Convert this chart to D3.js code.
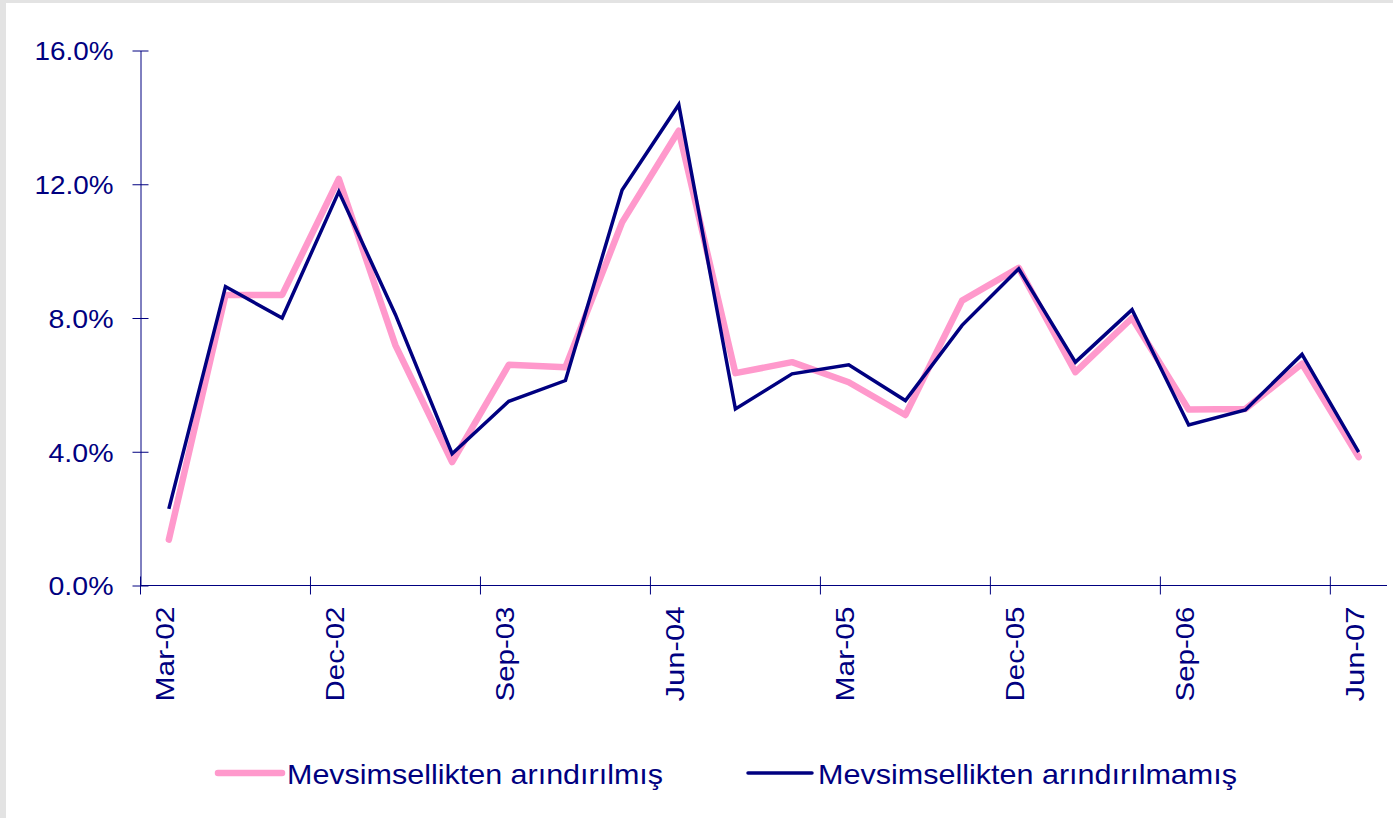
<!DOCTYPE html>
<html>
<head>
<meta charset="utf-8">
<script src="https://cdn.jsdelivr.net/npm/d3@7"></script>
<style>
  html, body { margin: 0; padding: 0; background: #e3e3e3; }
  svg { display: block; }
</style>
</head>
<body>
<script>
// ---- data ----
const categories = ["Mar-02","Jun-02","Sep-02","Dec-02","Mar-03","Jun-03","Sep-03","Dec-03",
  "Mar-04","Jun-04","Sep-04","Dec-04","Mar-05","Jun-05","Sep-05","Dec-05",
  "Mar-06","Jun-06","Sep-06","Dec-06","Mar-07","Jun-07"];
const seasAdj = [1.37, 8.69, 8.69, 12.16, 7.18, 3.69, 6.60, 6.53, 10.86, 13.60, 6.35, 6.68,
  6.08, 5.10, 8.52, 9.50, 6.38, 8.00, 5.26, 5.28, 6.63, 3.84];
const notAdj = [2.29, 8.94, 8.00, 11.78, 8.10, 3.94, 5.51, 6.13, 11.83, 14.38, 5.28, 6.33,
  6.60, 5.53, 7.78, 9.47, 6.68, 8.25, 4.80, 5.25, 6.91, 3.99];
const yTicks = [0, 4, 8, 12, 16];
const xLabelCats = ["Mar-02","Dec-02","Sep-03","Jun-04","Mar-05","Dec-05","Sep-06","Jun-07"];
const seriesNames = ["Mevsimsellikten arındırılmış", "Mevsimsellikten arındırılmamış"];

const W = 1393, H = 818;
const navy = "#000080", pink = "#ff99cc";
const mLeft = 140.5, mRight = 1387, mTop = 50.5, mBottom = 585.5;

const svg = d3.select("body").append("svg").attr("width", W).attr("height", H);
svg.append("rect").attr("x", 6).attr("y", 3).attr("width", W - 6).attr("height", H - 3).attr("fill", "#fff");

const x = d3.scaleBand().domain(categories).range([mLeft, mRight]).padding(0);
const y = d3.scaleLinear().domain([0, 16]).range([mBottom, mTop]);
const font = "'Liberation Sans', Arial, sans-serif";

// y axis
const yAxis = d3.axisLeft(y).tickValues(yTicks).tickSize(0).tickFormat(d => d3.format(".1f")(d) + "%");
const gy = svg.append("g").attr("transform", `translate(${mLeft},0)`).call(yAxis);
gy.select(".domain").attr("stroke", navy).attr("stroke-width", 1);
gy.selectAll(".tick text").attr("x", -27).attr("dy", "0.36em")
  .attr("fill", navy).attr("font-family", font).attr("font-size", 26)
  .attr("textLength", d => d >= 10 ? 79 : 65).attr("lengthAdjust", "spacingAndGlyphs");
gy.selectAll(".tick").append("line").attr("x1", -8).attr("x2", 8).attr("stroke", navy).attr("stroke-width", 1);

// x axis
const gx = svg.append("g").attr("transform", `translate(0,${mBottom})`);
gx.append("line").attr("x1", mLeft).attr("x2", mRight).attr("stroke", navy).attr("stroke-width", 1);
const tickIdx = d3.range(0, categories.length + 1, 3);
gx.selectAll("line.tk").data(tickIdx).join("line").attr("class", "tk")
  .attr("x1", i => i < categories.length ? x(categories[i]) : mRight)
  .attr("x2", i => i < categories.length ? x(categories[i]) : mRight)
  .attr("y1", -9).attr("y2", 9).attr("stroke", navy).attr("stroke-width", 1);
gx.selectAll("text").data(xLabelCats).join("text")
  .attr("transform", d => `translate(${x(d) + x.bandwidth() / 2 + 5},21) rotate(-90)`)
  .attr("text-anchor", "end")
  .attr("fill", navy).attr("font-family", font).attr("font-size", 26)
  .attr("textLength", 95).attr("lengthAdjust", "spacingAndGlyphs")
  .text(d => d);

// lines
const cx = d => x(d) + x.bandwidth() / 2;
const line = d3.line().x(d => cx(d[0])).y(d => y(d[1]));
svg.append("path").datum(categories.map((c, i) => [c, seasAdj[i]]))
  .attr("d", line).attr("fill", "none").attr("stroke", pink).attr("stroke-width", 6.5)
  .attr("stroke-linejoin", "round").attr("stroke-linecap", "round");
svg.append("path").datum(categories.map((c, i) => [c, notAdj[i]]))
  .attr("d", line).attr("fill", "none").attr("stroke", navy).attr("stroke-width", 3.5)
  .attr("stroke-linejoin", "miter").attr("stroke-linecap", "butt");

// legend
const legend = [
  { name: seriesNames[0], color: pink, w: 6.5, x1: 218, x2: 282, tx: 287, tl: 376 },
  { name: seriesNames[1], color: navy, w: 3.5, x1: 748, x2: 812, tx: 818, tl: 419 }
];
const lg = svg.append("g");
legend.forEach(l => {
  lg.append("line").attr("x1", l.x1).attr("x2", l.x2).attr("y1", 773).attr("y2", 773)
    .attr("stroke", l.color).attr("stroke-width", l.w).attr("stroke-linecap", "round");
  lg.append("text").attr("x", l.tx).attr("y", 784)
    .attr("fill", navy).attr("font-family", font).attr("font-size", 28)
    .attr("textLength", l.tl).attr("lengthAdjust", "spacingAndGlyphs")
    .text(l.name);
});
</script>
</body>
</html>
